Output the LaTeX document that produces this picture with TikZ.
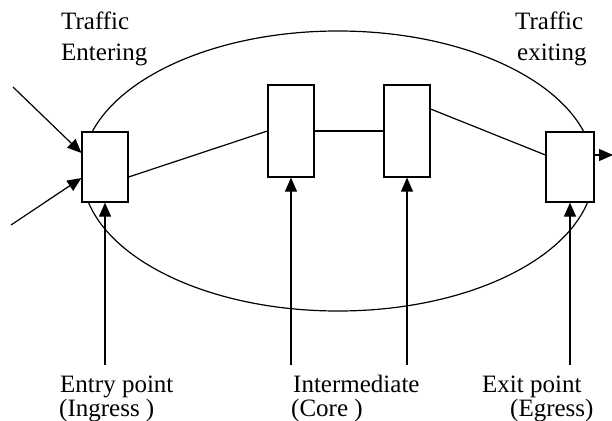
\documentclass[tikz,border=0pt]{standalone}
\usepackage{fontspec}
\setmainfont{Liberation Serif}
\usetikzlibrary{arrows.meta}
\tikzset{
  rbox/.style={draw, line width=1.2pt, fill=white, minimum width=46pt, inner sep=0pt},
  conn/.style={line width=1.2pt},
  arr/.style={line width=1.2pt, -{Triangle[length=14pt,width=12pt]}},
  lbl/.style={anchor=base west, inner sep=0pt, font=\fontsize{25}{30}\selectfont}
}
\begin{document}
\begin{tikzpicture}[x=1pt,y=-1pt]
\useasboundingbox (0,0) rectangle (612,420);
% ellipse
\draw[conn] (338,171) ellipse [x radius=256, y radius=140];
% boxes
\node[rbox, minimum height=70pt] (b1) at (105,167) {};
\node[rbox, minimum height=92pt] (b2) at (291,131) {};
\node[rbox, minimum height=92pt] (b3) at (407,131) {};
\node[rbox, minimum height=70pt, minimum width=48pt] (b4) at (570,167) {};
% links
\draw[conn] ([yshift=-10pt]b1.east) -- (b2.west);
\draw[conn] (b2.east) -- (b3.west);
\draw[conn] ([yshift=22pt]b3.east) -- ([yshift=12pt]b4.west);
% entering / exiting
\coordinate (in1) at (13,87);
\coordinate (in2) at (11,225);
\coordinate (out) at (613,155);
\draw[arr] (in1) -- ([yshift=14pt]b1.west);
\draw[arr] (in2) -- ([yshift=-11pt]b1.west);
\draw[arr] ([yshift=12pt]b4.east) -- (out);
% bottom arrows
\coordinate (p1) at (105,365);
\coordinate (p2) at (291,365);
\coordinate (p3) at (407,365);
\coordinate (p4) at (570,365);
\draw[arr] (p1) -- (b1.south);
\draw[arr] (p2) -- (b2.south);
\draw[arr] (p3) -- (b3.south);
\draw[arr] (p4) -- (b4.south);
% labels
\node[lbl] (tl1) at (61,30) {Traffic};
\node[lbl] (tl2) at (61,60) {Entering};
\node[lbl] (tr1) at (515,30) {Traffic};
\node[lbl] (tr2) at (517,60) {exiting};
\node[lbl] (e1) at (60,392) {Entry point};
\node[lbl] (e2) at (59,416) {(Ingress )};
\node[lbl] (c1) at (293,392) {Intermediate};
\node[lbl] (c2) at (291,416) {(Core )};
\node[lbl] (x1) at (482,392) {Exit point};
\node[lbl] (x2) at (510,416) {(Egress)};
\end{tikzpicture}
\end{document}
